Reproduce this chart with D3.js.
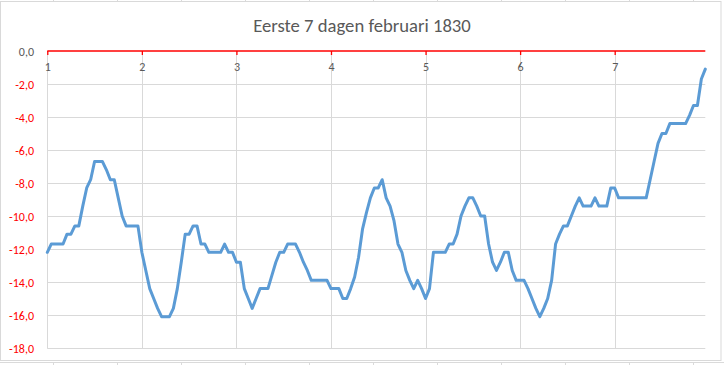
<!DOCTYPE html>
<html>
<head>
<meta charset="utf-8">
<script src="https://cdn.jsdelivr.net/npm/d3@7"></script>
<style>
  html, body { margin: 0; padding: 0; background: #ffffff; }
  svg { display: block; }
</style>
</head>
<body>
<svg id="chart" width="724" height="365"></svg>
<script>
// ---- data ----
const chartTitle = "Eerste 7 dagen februari 1830";
const dayLabels = ["1", "2", "3", "4", "5", "6", "7"];
const hoursPerDay = 24;
// hourly temperature (°C), 7 days x 24 hours
const temperature = [
  -12.2, -11.7, -11.7, -11.7, -11.7, -11.1, -11.1, -10.6, -10.6, -9.4, -8.3, -7.8,
  -6.7, -6.7, -6.7, -7.2, -7.8, -7.8, -8.9, -10.0, -10.6, -10.6, -10.6, -10.6,
  -12.2, -13.3, -14.4, -15.0, -15.6, -16.1, -16.1, -16.1, -15.6, -14.4, -12.8, -11.1,
  -11.1, -10.6, -10.6, -11.7, -11.7, -12.2, -12.2, -12.2, -12.2, -11.7, -12.2, -12.2,
  -12.8, -12.8, -14.4, -15.0, -15.6, -15.0, -14.4, -14.4, -14.4, -13.6, -12.8, -12.2,
  -12.2, -11.7, -11.7, -11.7, -12.2, -12.8, -13.3, -13.9, -13.9, -13.9, -13.9, -13.9,
  -14.4, -14.4, -14.4, -15.0, -15.0, -14.4, -13.7, -12.5, -10.8, -9.8, -8.9, -8.3,
  -8.3, -7.8, -8.9, -9.4, -10.3, -11.7, -12.2, -13.3, -13.9, -14.4, -13.9, -14.4,
  -15.0, -14.4, -12.2, -12.2, -12.2, -12.2, -11.7, -11.7, -11.1, -10.0, -9.4, -8.9,
  -8.9, -9.4, -10.0, -10.0, -11.7, -12.8, -13.3, -12.8, -12.2, -12.2, -13.3, -13.9,
  -13.9, -13.9, -14.4, -15.0, -15.6, -16.1, -15.6, -15.0, -13.9, -11.7, -11.1, -10.6,
  -10.6, -10.0, -9.4, -8.9, -9.4, -9.4, -9.4, -8.9, -9.4, -9.4, -9.4, -8.3,
  -8.3, -8.9, -8.9, -8.9, -8.9, -8.9, -8.9, -8.9, -8.9, -7.8, -6.7, -5.6,
  -5.0, -5.0, -4.4, -4.4, -4.4, -4.4, -4.4, -3.9, -3.3, -3.3, -1.7, -1.1
];
const yTicks = [0, -2, -4, -6, -8, -10, -12, -14, -16, -18];

// ---- layout ----
const svg = d3.select("#chart");
const W = 724, H = 365;
const plot = { left: 47.3, right: 705.3, top: 51, bottom: 348 };
const fontFam = "Carlito, Calibri, 'Liberation Sans', Arial, sans-serif";

// spreadsheet cell grid behind the chart
const sheet = svg.append("g");
sheet.append("rect").attr("x", 0).attr("y", 0).attr("width", W).attr("height", H).attr("fill", "#ffffff");
sheet.append("line").attr("x1", 0).attr("x2", W).attr("y1", 362.5).attr("y2", 362.5)
  .attr("stroke", "#dadada").attr("stroke-width", 1);
d3.range(0, 11).forEach(k => {
  const xx = 53.5 + 64 * k;
  sheet.append("line").attr("x1", xx).attr("x2", xx).attr("y1", 362).attr("y2", H)
    .attr("stroke", "#dadada");
  sheet.append("line").attr("x1", xx).attr("x2", xx).attr("y1", 0).attr("y2", 1)
    .attr("stroke", "#dadada");
});

// chart area
svg.append("rect").attr("x", 0.5).attr("y", 1.5).attr("width", 720.5).attr("height", 359)
  .attr("fill", "#ffffff").attr("stroke", "#d9d9d9").attr("stroke-width", 1);

const n = temperature.length;
const x = d3.scaleLinear().domain([0, n - 1]).range([plot.left, plot.right]);
const y = d3.scaleLinear().domain([0, -18]).range([plot.top, plot.bottom]);

// horizontal gridlines
svg.append("g")
  .selectAll("line").data(yTicks.filter(d => d !== 0)).join("line")
  .attr("x1", plot.left).attr("x2", plot.right)
  .attr("y1", d => Math.round(y(d)) + 0.5).attr("y2", d => Math.round(y(d)) + 0.5)
  .attr("stroke", "#d9d9d9").attr("stroke-width", 1);

// vertical gridlines at each day
const dayIdx = dayLabels.map((d, i) => i * hoursPerDay);
svg.append("g")
  .selectAll("line").data(dayIdx).join("line")
  .attr("x1", d => Math.round(x(d)) + 0.5).attr("x2", d => Math.round(x(d)) + 0.5)
  .attr("y1", plot.top).attr("y2", plot.bottom + 0.5)
  .attr("stroke", "#d9d9d9").attr("stroke-width", 1);

// y axis labels
const yAxis = d3.axisLeft(y).tickValues(yTicks).tickSize(0).tickPadding(0)
  .tickFormat(d => d3.format(".1f")(d).replace(".", ",").replace("−", "-"));
const gy = svg.append("g").attr("transform", `translate(34,0)`).call(yAxis);
gy.select(".domain").remove();
gy.selectAll("text")
  .attr("font-family", fontFam).attr("font-size", 12)
  .attr("fill", d => d < 0 ? "#ff0000" : "#595959")
  .attr("dy", "0.35em");

// x axis at y=0 (top), red
const xAxis = d3.axisBottom(x).tickValues(dayIdx).tickSize(4).tickPadding(7)
  .tickFormat((d, i) => dayLabels[i]);
const gx = svg.append("g").attr("transform", `translate(0,${y(0)})`).call(xAxis);
gx.select(".domain").attr("d", `M${plot.left},0H${plot.right}`)
  .attr("stroke", "#ff0000").attr("stroke-width", 1.3);
gx.selectAll(".tick line").attr("stroke", "#ff0000").attr("stroke-width", 1.3);
gx.selectAll("text").attr("font-family", fontFam).attr("font-size", 12).attr("fill", "#595959");

// line
const line = d3.line().x((d, i) => x(i)).y(d => y(d));
svg.append("path").datum(temperature)
  .attr("d", line)
  .attr("fill", "none").attr("stroke", "#5b9bd5")
  .attr("stroke-width", 3).attr("stroke-linejoin", "round").attr("stroke-linecap", "round");

// title
svg.append("text").attr("x", 362).attr("y", 31.5)
  .attr("text-anchor", "middle")
  .attr("font-family", fontFam).attr("font-size", 18.67)
  .attr("fill", "#595959")
  .text(chartTitle);
</script>
</body>
</html>
